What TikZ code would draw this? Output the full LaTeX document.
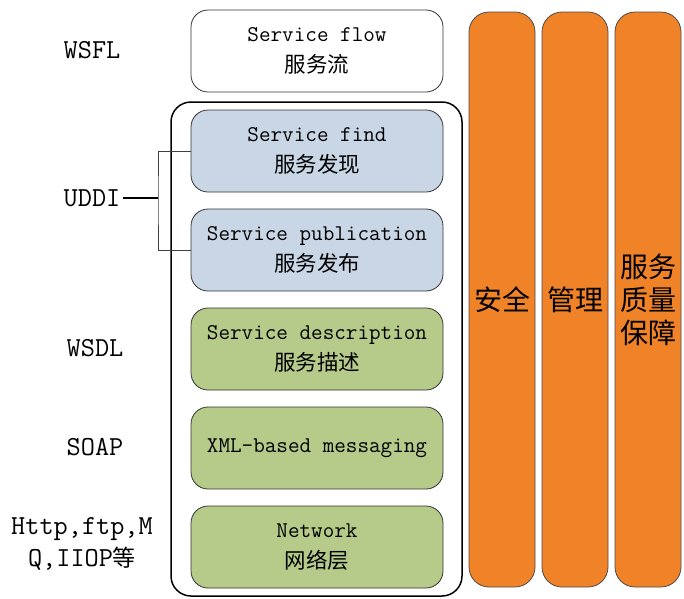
\documentclass[tikz,border=0pt]{standalone}
\usepackage{fontspec}
\newfontfamily\cjk{Noto Sans CJK SC}
\definecolor{findblue}{RGB}{201,214,229}
\definecolor{layergreen}{RGB}{182,202,137}
\definecolor{barorange}{RGB}{240,130,40}
\newcommand{\zh}[1]{{\cjk\fontsize{21.5}{31}\selectfont #1}}
\begin{document}
\begin{tikzpicture}[x=1pt,y=-1pt,
  layer/.style={draw=black!80, line width=0.8pt, rounded corners=17pt,
    minimum width=252pt, minimum height=82pt, align=center, inner sep=0pt,
    font=\ttfamily\fontsize{22.5}{31}\selectfont},
  bar/.style={draw=black!70, fill=barorange, line width=0.8pt, rounded corners=20pt,
    minimum width=66pt, minimum height=575pt, align=center, inner sep=0pt,
    font=\cjk\fontsize{28}{33}\selectfont},
  tag/.style={font=\ttfamily\fontsize{27.5}{32}\selectfont, align=center, inner sep=2pt}]
\useasboundingbox (0,0) rectangle (684,598);

% outer frame around the protocol stack
\node[draw, line width=1.5pt, rounded corners=20pt, minimum width=291pt,
      minimum height=494pt, inner sep=0pt] (stack) at (316.5,349) {};

% stack layers
\node[layer, fill=white]      (flow) at (317,51)  {Service flow\\\zh{服务流}};
\node[layer, fill=findblue]   (find) at (317,151) {Service find\\\zh{服务发现}};
\node[layer, fill=findblue]   (pub)  at (317,250) {Service publication\\\zh{服务发布}};
\node[layer, fill=layergreen] (desc) at (317,349) {Service description\\\zh{服务描述}};
\node[layer, fill=layergreen] (xml)  at (317,448) {XML-based messaging};
\node[layer, fill=layergreen] (net)  at (317,547) {Network\\\zh{网络层}};

% cross-cutting columns
\node[bar] (sec)  at (502,299.5) {安全};
\node[bar] (mgmt) at (575,299.5) {管理};
\node[bar] (qos)  at (648,299.5) {服务\\质量\\保障};

% technology labels
\node[tag] (wsfl) at (92,50)  {WSFL};
\node[tag] (uddi) at (92,198) {UDDI};
\node[tag] (wsdl) at (95,348) {WSDL};
\node[tag] (soap) at (95,447) {SOAP};
\node[tag] (http) at (82,544) {Http,ftp,M\\Q,IIOP{\cjk\fontsize{23}{32}\selectfont 等}};

% UDDI bracket
\coordinate (br) at (158,200);
\draw[line width=1.5pt] (uddi.east) -- (uddi.east -| br);
\draw[black!75, line width=0.8pt] (find.west) -| (br) |- (pub.west);
\end{tikzpicture}
\end{document}
